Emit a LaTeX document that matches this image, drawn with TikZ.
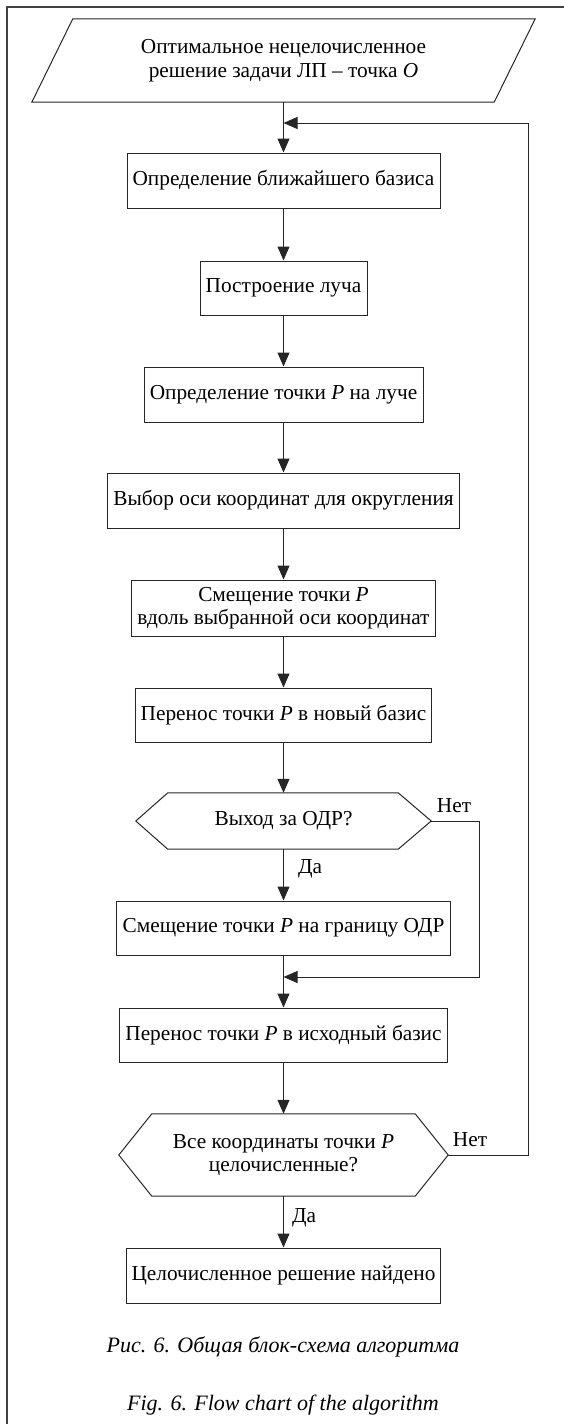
\documentclass[tikz,border=0pt]{standalone}
\usepackage{fontspec}
\setmainfont{Liberation Serif}
\usetikzlibrary{arrows.meta}
\newcommand\bxf{\fontsize{21.3}{23.5}\selectfont}
\newcommand\capf{\fontsize{22}{26}\selectfont\itshape}
\tikzset{
  ln/.style={line width=1pt, draw=black!85},
  box/.style={ln, rectangle, inner sep=0pt, align=center, font=\bxf},
  shp/.style={rectangle, inner sep=0pt, align=center, font=\bxf},
  arr/.style={ln, -{Triangle[length=14pt,width=12pt]}},
  lbl/.style={inner sep=0pt, font=\bxf},
  captxt/.style={inner sep=0pt, font=\capf},
}
\begin{document}
\begin{tikzpicture}[x=1pt,y=-1pt]
\useasboundingbox (0,0) rectangle (564,1424);
\draw[line width=1.5pt, black!75] (564,7) -- (7,7) -- (7,1424);

\node[shp, minimum width=503pt, minimum height=83pt] (par) at (283.5,60.5)
  {Оптимальное нецелочисленное\\решение задачи ЛП – точка \textit{O}};
\draw[ln] (par.south west) -- ([xshift=41pt]par.north west) -- (par.north east)
  -- ([xshift=-41pt]par.south east) -- cycle;

\node[box, minimum width=313pt, minimum height=55pt] (b1) at (283.5,180.5) {Определение ближайшего базиса};
\node[box, minimum width=167pt, minimum height=54pt] (b2) at (283.5,288) {Построение луча};
\node[box, minimum width=279pt, minimum height=55pt] (b3) at (283.5,394.5) {Определение точки \textit{P} на луче};
\node[box, minimum width=352pt, minimum height=55pt] (b4) at (283.5,500.5) {Выбор оси координат для округления};
\node[box, minimum width=304pt, minimum height=56pt] (b5) at (283.5,608) {Смещение точки \textit{P}\\вдоль выбранной оси координат};
\node[box, minimum width=296pt, minimum height=54pt] (b6) at (283.5,715) {Перенос точки \textit{P} в новый базис};

\node[shp, minimum width=295pt, minimum height=56pt] (h1) at (283.5,821) {Выход за ОДР?};
\draw[ln] (h1.west) -- ([xshift=32pt]h1.north west) -- ([xshift=-33pt]h1.north east)
  -- (h1.east) -- ([xshift=-33pt]h1.south east) -- ([xshift=32pt]h1.south west) -- cycle;

\node[box, minimum width=334pt, minimum height=54pt] (b7) at (283.5,928) {Смещение точки \textit{P} на границу ОДР};
\node[box, minimum width=328pt, minimum height=54pt] (b8) at (283.5,1035) {Перенос точки \textit{P} в исходный базис};

\node[shp, minimum width=329pt, minimum height=82pt] (h2) at (283.5,1155) {Все координаты точки \textit{P}\\целочисленные?};
\draw[ln] (h2.west) -- ([xshift=33pt]h2.north west) -- ([xshift=-33pt]h2.north east)
  -- (h2.east) -- ([xshift=-33pt]h2.south east) -- ([xshift=33pt]h2.south west) -- cycle;

\node[box, minimum width=314pt, minimum height=55pt] (b9) at (283.5,1275.5) {Целочисленное решение найдено};

\node[captxt] (c1) at (283,1347) {Рис. 6. Общая блок-схема алгоритма};
\node[captxt] (c2) at (283,1405) {Fig. 6. Flow chart of the algorithm};

\coordinate (fb) at (283.5,123);
\coordinate (j1) at (283.5,977);

\draw[arr] (par.south) -- (b1.north);
\draw[arr] (b1) -- (b2);
\draw[arr] (b2) -- (b3);
\draw[arr] (b3) -- (b4);
\draw[arr] (b4) -- (b5);
\draw[arr] (b5) -- (b6);
\draw[arr] (b6) -- (h1);
\draw[arr] (h1) -- (b7);
\draw[arr] (b7) -- (b8);
\draw[arr] (b8) -- (h2);
\draw[arr] (h2) -- (b9);
\draw[arr] (h1.east) -- ++(48,0) |- (j1);
\draw[arr] (h2.east) -- ++(80,0) |- (fb);

\node[lbl] (n1) at (454,806) {Нет};
\node[lbl] (d1) at (310,869) {Да};
\node[lbl] (n2) at (470,1140) {Нет};
\node[lbl] (d2) at (304,1218) {Да};
\end{tikzpicture}
\end{document}
